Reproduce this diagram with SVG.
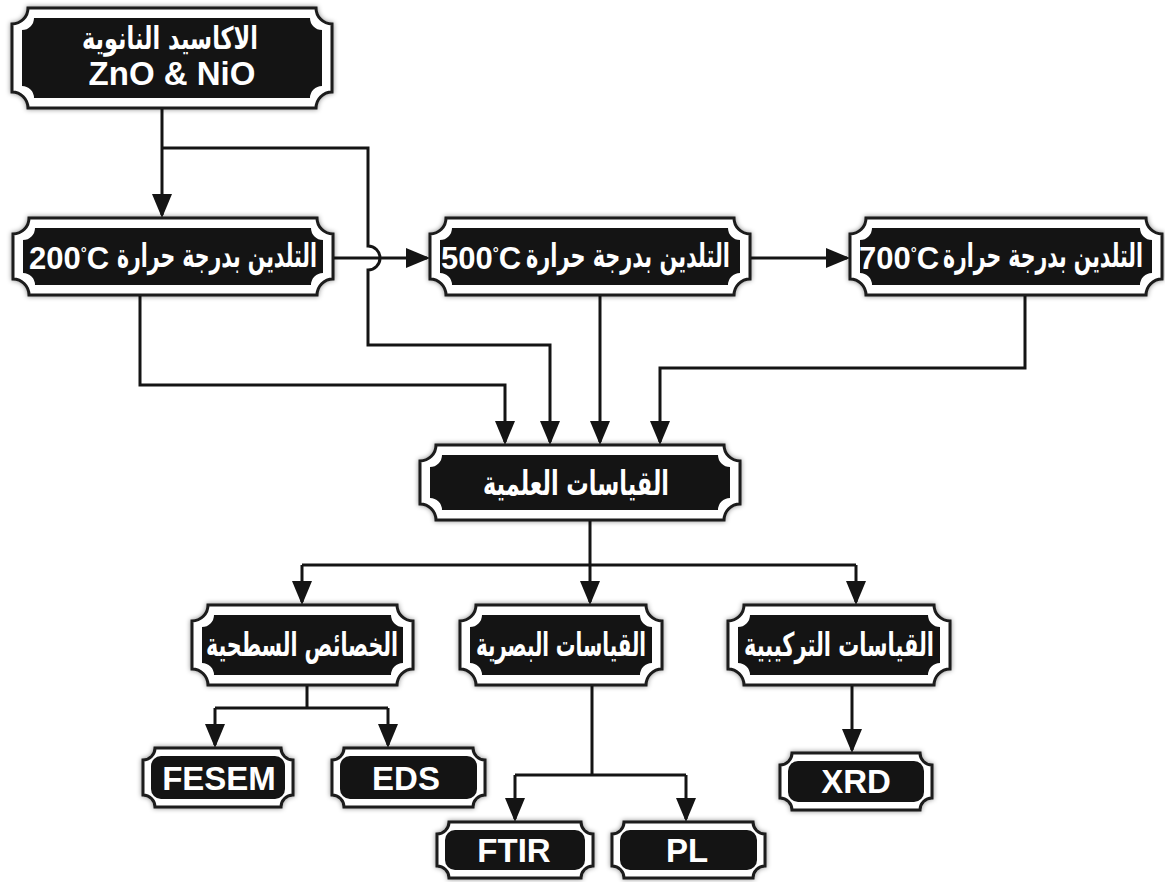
<svg xmlns="http://www.w3.org/2000/svg" width="1165" height="882" viewBox="0 0 1165 882">
<style>
.o{fill:#fff;stroke:#1a1a1a;stroke-width:3;filter:url(#sh)}
.i{fill:#141414}
.ar{font-family:"DejaVu Sans","Noto Sans",sans-serif;font-weight:bold;fill:#fff;text-anchor:middle}
.en{font-family:"Liberation Sans",Arial,sans-serif;font-weight:bold;fill:#fff;text-anchor:middle}
.l{fill:none;stroke:#141414;stroke-width:3}
.m{marker-end:url(#a)}
</style>
<defs>
<filter id="sh" x="-10%" y="-20%" width="120%" height="140%"><feDropShadow dx="0" dy="0" stdDeviation="2.5" flood-color="#000" flood-opacity="0.45"/></filter>
<marker id="a" markerUnits="userSpaceOnUse" markerWidth="24" markerHeight="20" refX="21" refY="10" orient="auto"><path d="M0,0 L24,10 L0,20 Z" fill="#141414"/></marker>
</defs>
<rect width="1165" height="882" fill="#fff"/>
<g id="connectors">
<path class="l m" d="M162 108 V215"/>
<path class="l m" d="M162 148 H368 V246 A12 12 0 0 1 368 270 V345 H550 V442"/>
<path class="l m" d="M140 295 V385 H505 V442"/>
<path class="l m" d="M600 295 V442"/>
<path class="l m" d="M1025 295 V368 H660 V442"/>
<path class="l m" d="M333 258 H427"/>
<path class="l m" d="M750 258 H847"/>
<path class="l" d="M590 520 V565 M302 565 H856"/>
<path class="l m" d="M302 565 V602"/>
<path class="l m" d="M590 565 V602"/>
<path class="l m" d="M856 565 V602"/>
<path class="l" d="M307 685 V708 M215 708 H388"/>
<path class="l m" d="M215 708 V745"/>
<path class="l m" d="M388 708 V745"/>
<path class="l" d="M592 685 V775 M515 775 H686"/>
<path class="l m" d="M515 775 V819"/>
<path class="l m" d="M686 775 V819"/>
<path class="l m" d="M852 685 V750"/>
</g>
<g id="n-oxides">
<path class="o" d="M28 8 H316 A16 16 0 0 0 332 24 V92 A16 16 0 0 0 316 108 H28 A16 16 0 0 0 12 92 V24 A16 16 0 0 0 28 8 Z"/>
<path class="i" d="M34 18 H310 A12 12 0 0 0 322 30 V86 A12 12 0 0 0 310 98 H34 A12 12 0 0 0 22 86 V30 A12 12 0 0 0 34 18 Z"/>
<text class="ar" x="170" y="49" font-size="31" textLength="176" lengthAdjust="spacingAndGlyphs">الاكاسيد النانوية</text>
<text class="en" x="172" y="85" font-size="33">ZnO &amp; NiO</text>
</g>
<g id="n-200">
<path class="o" d="M29 218 H317 A16 16 0 0 0 333 234 V279 A16 16 0 0 0 317 295 H29 A16 16 0 0 0 13 279 V234 A16 16 0 0 0 29 218 Z"/>
<path class="i" d="M35 228 H311 A12 12 0 0 0 323 240 V273 A12 12 0 0 0 311 285 H35 A12 12 0 0 0 23 273 V240 A12 12 0 0 0 35 228 Z"/>
<text class="ar" x="217" y="267" font-size="33" textLength="200" lengthAdjust="spacingAndGlyphs">التلدين بدرجة حرارة</text>
<text class="en" x="69" y="269" font-size="31">200<tspan dy="-11" font-size="15">°</tspan><tspan dy="11">C</tspan></text>
</g>
<g id="n-500">
<path class="o" d="M446 218 H734 A16 16 0 0 0 750 234 V279 A16 16 0 0 0 734 295 H446 A16 16 0 0 0 430 279 V234 A16 16 0 0 0 446 218 Z"/>
<path class="i" d="M452 228 H728 A12 12 0 0 0 740 240 V273 A12 12 0 0 0 728 285 H452 A12 12 0 0 0 440 273 V240 A12 12 0 0 0 452 228 Z"/>
<text class="ar" x="628" y="267" font-size="33" textLength="204" lengthAdjust="spacingAndGlyphs">التلدين بدرجة حرارة</text>
<text class="en" x="481" y="269" font-size="31">500<tspan dy="-11" font-size="15">°</tspan><tspan dy="11">C</tspan></text>
</g>
<g id="n-700">
<path class="o" d="M866 218 H1146 A16 16 0 0 0 1162 234 V279 A16 16 0 0 0 1146 295 H866 A16 16 0 0 0 850 279 V234 A16 16 0 0 0 866 218 Z"/>
<path class="i" d="M872 228 H1140 A12 12 0 0 0 1152 240 V273 A12 12 0 0 0 1140 285 H872 A12 12 0 0 0 860 273 V240 A12 12 0 0 0 872 228 Z"/>
<text class="ar" x="1043" y="267" font-size="33" textLength="200" lengthAdjust="spacingAndGlyphs">التلدين بدرجة حرارة</text>
<text class="en" x="899" y="269" font-size="31">700<tspan dy="-11" font-size="15">°</tspan><tspan dy="11">C</tspan></text>
</g>
<g id="n-measure">
<path class="o" d="M436 445 H724 A16 16 0 0 0 740 461 V504 A16 16 0 0 0 724 520 H436 A16 16 0 0 0 420 504 V461 A16 16 0 0 0 436 445 Z"/>
<path class="i" d="M442 455 H718 A12 12 0 0 0 730 467 V498 A12 12 0 0 0 718 510 H442 A12 12 0 0 0 430 498 V467 A12 12 0 0 0 442 455 Z"/>
<text class="ar" x="576" y="495" font-size="34" textLength="186" lengthAdjust="spacingAndGlyphs">القياسات العلمية</text>
</g>
<g id="n-surface">
<path class="o" d="M208 605 H397 A16 16 0 0 0 413 621 V669 A16 16 0 0 0 397 685 H208 A16 16 0 0 0 192 669 V621 A16 16 0 0 0 208 605 Z"/>
<path class="i" d="M214 615 H391 A12 12 0 0 0 403 627 V663 A12 12 0 0 0 391 675 H214 A12 12 0 0 0 202 663 V627 A12 12 0 0 0 214 615 Z"/>
<text class="ar" x="302" y="656" font-size="33" textLength="192" lengthAdjust="spacingAndGlyphs">الخصائص السطحية</text>
</g>
<g id="n-optical">
<path class="o" d="M476 605 H646 A16 16 0 0 0 662 621 V669 A16 16 0 0 0 646 685 H476 A16 16 0 0 0 460 669 V621 A16 16 0 0 0 476 605 Z"/>
<path class="i" d="M482 615 H640 A12 12 0 0 0 652 627 V663 A12 12 0 0 0 640 675 H482 A12 12 0 0 0 470 663 V627 A12 12 0 0 0 482 615 Z"/>
<text class="ar" x="561" y="656" font-size="33" textLength="170" lengthAdjust="spacingAndGlyphs">القياسات البصرية</text>
</g>
<g id="n-structural">
<path class="o" d="M744 605 H934 A16 16 0 0 0 950 621 V669 A16 16 0 0 0 934 685 H744 A16 16 0 0 0 728 669 V621 A16 16 0 0 0 744 605 Z"/>
<path class="i" d="M750 615 H928 A12 12 0 0 0 940 627 V663 A12 12 0 0 0 928 675 H750 A12 12 0 0 0 738 663 V627 A12 12 0 0 0 750 615 Z"/>
<text class="ar" x="839" y="656" font-size="33" textLength="190" lengthAdjust="spacingAndGlyphs">القياسات التركيبية</text>
</g>
<g id="n-fesem">
<path class="o" d="M155 748 H281 A12 12 0 0 0 293 760 V795 A12 12 0 0 0 281 807 H155 A12 12 0 0 0 143 795 V760 A12 12 0 0 0 155 748 Z"/>
<rect class="i" x="151" y="756" width="134" height="43" rx="10"/>
<text class="en" x="219" y="790" font-size="33">FESEM</text>
</g>
<g id="n-eds">
<path class="o" d="M344 748 H473 A12 12 0 0 0 485 760 V795 A12 12 0 0 0 473 807 H344 A12 12 0 0 0 332 795 V760 A12 12 0 0 0 344 748 Z"/>
<rect class="i" x="340" y="756" width="137" height="43" rx="10"/>
<text class="en" x="406" y="790" font-size="33">EDS</text>
</g>
<g id="n-xrd">
<path class="o" d="M792 753 H920 A12 12 0 0 0 932 765 V798 A12 12 0 0 0 920 810 H792 A12 12 0 0 0 780 798 V765 A12 12 0 0 0 792 753 Z"/>
<rect class="i" x="788" y="761" width="136" height="41" rx="10"/>
<text class="en" x="856" y="793" font-size="33">XRD</text>
</g>
<g id="n-ftir">
<path class="o" d="M449 822 H581 A12 12 0 0 0 593 834 V866 A12 12 0 0 0 581 878 H449 A12 12 0 0 0 437 866 V834 A12 12 0 0 0 449 822 Z"/>
<rect class="i" x="445" y="830" width="140" height="40" rx="10"/>
<text class="en" x="514" y="862" font-size="33">FTIR</text>
</g>
<g id="n-pl">
<path class="o" d="M624 822 H753 A12 12 0 0 0 765 834 V866 A12 12 0 0 0 753 878 H624 A12 12 0 0 0 612 866 V834 A12 12 0 0 0 624 822 Z"/>
<rect class="i" x="620" y="830" width="137" height="40" rx="10"/>
<text class="en" x="687" y="862" font-size="33">PL</text>
</g>
</svg>
